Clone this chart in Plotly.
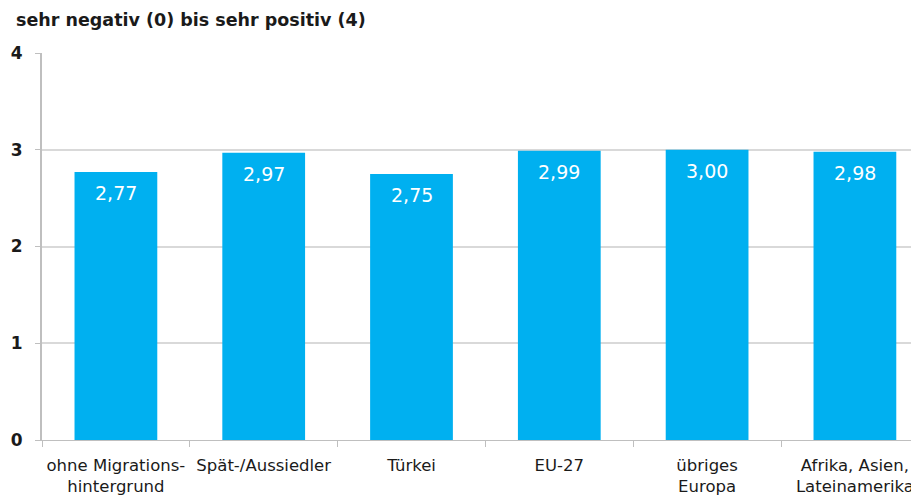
import plotly.graph_objects as go

categories = ["ohne Migrations-<br>hintergrund", "Spät-/Aussiedler", "Türkei", "EU-27",
              "übriges<br>Europa", "Afrika, Asien,<br>Lateinamerika"]
values = [2.77, 2.97, 2.75, 2.99, 3.00, 2.98]
value_labels = [f"{v:.2f}".replace(".", ",") for v in values]
y_ticks = [0, 1, 2, 3, 4]
title_text = "sehr negativ (0) bis sehr positiv (4)"

# the page body adds an 8px margin, so the figure is sized/offset to compensate
OFF = 8
W, H = 919 - OFF, 504 - OFF
L, T, B, R = 42 - OFF, 53 - OFF, 64, 0
plot_w = W - L - R
plot_h = H - T - B

fig = go.Figure()
fig.add_trace(go.Bar(
    x=categories, y=values,
    marker=dict(color="#00B0F0", line=dict(width=0)),
    width=0.56, cliponaxis=False, hoverinfo="x+y",
))

annotations = [dict(
    x=c, y=v, text=t, xref="x", yref="y", showarrow=False,
    yshift=-21, yanchor="middle", xanchor="center",
    font=dict(color="white", size=19, family="DejaVu Sans"),
) for c, v, t in zip(categories, values, value_labels)]

annotations.append(dict(
    text="<b>" + title_text + "</b>", xref="paper", yref="paper",
    x=(14 - OFF - L) / plot_w, y=1 + (T - (20 - OFF)) / plot_h,
    xanchor="left", yanchor="middle", showarrow=False,
    font=dict(size=17.5, color="#1a1a1a", family="DejaVu Sans"),
))

fig.update_layout(
    width=W, height=H,
    margin=dict(l=L, r=R, t=T, b=B, autoexpand=False),
    paper_bgcolor="white", plot_bgcolor="white",
    showlegend=False,
    font=dict(family="DejaVu Sans", color="#1a1a1a"),
    xaxis=dict(
        type="category", range=[-0.5, -0.5 + plot_w / 147.8], automargin=False,
        showline=True, linecolor="#bfbfbf", linewidth=1,
        ticks="outside", tickson="boundaries", ticklen=6, tickcolor="#bfbfbf",
        tickfont=dict(size=16.5, color="#1a1a1a"), tickangle=0,
        showgrid=False, ticklabelstandoff=10,
    ),
    yaxis=dict(
        range=[0, 4], tickvals=y_ticks, automargin=False,
        tickmode="array", ticktext=[f"<b>{v}</b>" for v in y_ticks],
        showline=True, linecolor="#bfbfbf", linewidth=2,
        ticks="outside", ticklen=5, tickcolor="#bfbfbf",
        tickfont=dict(size=17, color="#1a1a1a", family="DejaVu Sans"),
        showgrid=True, gridcolor="#d9d9d9", gridwidth=2,
        zeroline=False, ticklabelstandoff=9,
    ),
    annotations=annotations,
)

fig.write_html("out.html")
